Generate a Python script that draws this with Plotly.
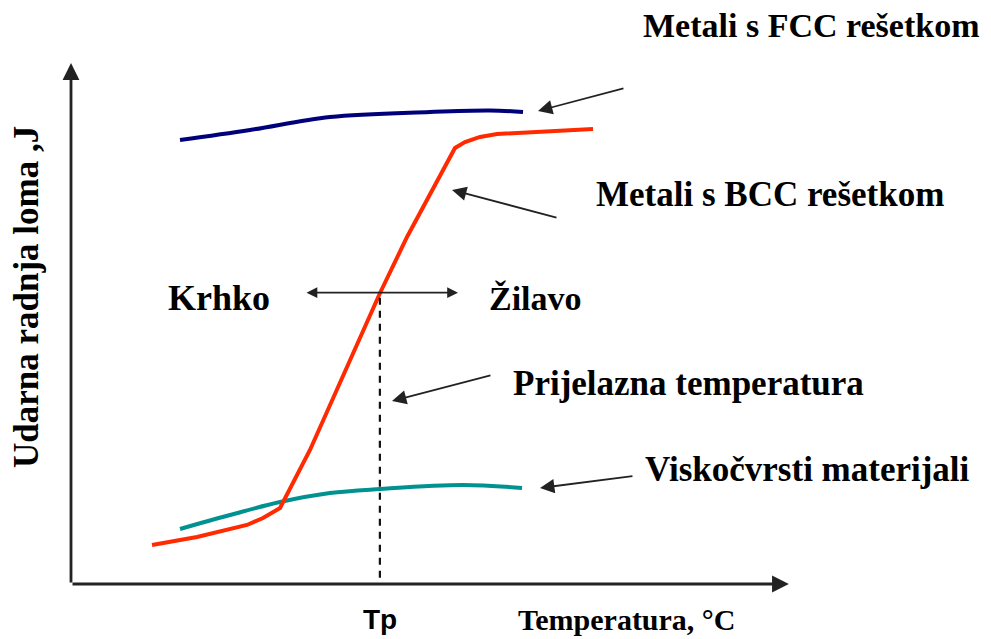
import plotly.graph_objects as go

# ---- data (x: temperature units 0-100, y: impact energy units 0-100) ----
fcc_x = [15.14, 24.86, 35.97, 49.86, 58.19, 62.78]
fcc_y = [86.43, 88.38, 90.91, 91.88, 92.17, 91.88]

bcc_x = [11.25, 17.50, 24.44, 26.67, 29.03, 33.19, 42.92, 46.67, 53.33, 54.72, 56.81, 59.17, 72.50]
bcc_y = [7.59, 9.15, 11.49, 12.85, 14.79, 26.09, 56.65, 67.55, 84.87, 86.04, 87.02, 87.60, 88.57]

visko_x = [15.14, 22.08, 29.03, 35.97, 42.92, 54.44, 62.64]
visko_y = [10.71, 13.43, 15.96, 17.71, 18.49, 19.27, 18.69]

TP = 42.9          # transition temperature
TP_Y = 56.7        # energy level at the transition

labels = {
    "fcc": "Metali s FCC rešetkom",
    "bcc": "Metali s BCC rešetkom",
    "tp": "Prijelazna temperatura",
    "visko": "Viskočvrsti materijali",
    "krhko": "Krhko",
    "zilavo": "Žilavo",
    "tick": "Tp",
    "xtitle": "Temperatura, °C",
    "ytitle": "Udarna radnja loma ,J",
}

SERIF = "Liberation Serif, Times New Roman, serif"
SANS = "Liberation Sans, Arial, sans-serif"

fig = go.Figure()
fig.add_trace(go.Scatter(x=fcc_x, y=fcc_y, mode="lines",
                         line=dict(color="#00007a", width=4, shape="spline"),
                         hoverinfo="skip", showlegend=False))
fig.add_trace(go.Scatter(x=visko_x, y=visko_y, mode="lines",
                         line=dict(color="#009290", width=4, shape="spline"),
                         hoverinfo="skip", showlegend=False))
fig.add_trace(go.Scatter(x=bcc_x, y=bcc_y, mode="lines",
                         line=dict(color="#ff2a00", width=4, shape="linear"),
                         hoverinfo="skip", showlegend=False))

# dashed transition line
fig.add_shape(type="line", x0=TP, x1=TP, y0=1.2, y1=TP_Y, xref="x", yref="y",
              line=dict(color="#111", width=2.2, dash="7px,6px"))

ann = []
# axes arrows
ann.append(dict(x=0, y=101.4, ax=0, ay=0, xref="x", yref="y", axref="x", ayref="y",
                showarrow=True, arrowhead=2, arrowsize=1.2, arrowwidth=2.8,
                arrowcolor="#222", text="", standoff=0))
ann.append(dict(x=99.7, y=0, ax=0, ay=0, xref="x", yref="y", axref="x", ayref="y",
                showarrow=True, arrowhead=2, arrowsize=1.2, arrowwidth=2.8,
                arrowcolor="#222", text="", standoff=0))

def pointer(tip, tail):
    return dict(x=tip[0], y=tip[1], ax=tail[0], ay=tail[1], xref="x", yref="y",
                axref="x", ayref="y", showarrow=True, arrowhead=2, arrowsize=1.6,
                arrowwidth=1.8, arrowcolor="#222", text="", standoff=0)

ann.append(pointer((64.86, 92.08), (76.94, 96.55)))
ann.append(pointer((52.92, 76.70), (67.64, 71.25)))
ann.append(pointer((44.58, 35.62), (58.47, 40.69)))
ann.append(pointer((65.14, 18.69), (78.19, 21.02)))

# double arrow Krhko <-> Zilavo
ann.append(dict(x=53.75, y=TP_Y, ax=32.5, ay=TP_Y, xref="x", yref="y",
                axref="x", ayref="y", showarrow=True, arrowhead=2, startarrowhead=2,
                arrowside="end+start", arrowsize=1.2, startarrowsize=1.2,
                arrowwidth=1.8, arrowcolor="#222", text="", standoff=0, startstandoff=0))

def label(text, xp, yp, size, family=SERIF, angle=0, xref="paper"):
    return dict(x=xp, y=yp, xref=xref, yref="paper", text="<b>" + text + "</b>",
                showarrow=False, xanchor="center", yanchor="middle", textangle=angle,
                font=dict(family=family, size=size, color="#000"))

ann.append(label(labels["fcc"], 1.028, 1.0649, 34))
ann.append(label(labels["bcc"], 0.9708, 0.7424, 35))
ann.append(label(labels["tp"], 0.8583, 0.3817, 35))
ann.append(label(labels["visko"], 1.0236, 0.2176, 35))
ann.append(label(labels["krhko"], 0.2056, 0.5458, 36))
ann.append(label(labels["zilavo"], 0.6458, 0.5458, 34))
ann.append(label(labels["tick"], TP, -0.0687, 28, family=SANS, xref="x"))
ann.append(label(labels["xtitle"], 0.7722, -0.0687, 30))
ann.append(label(labels["ytitle"], -0.0625, 0.5477, 35, angle=-90))

# the page adds an 8px body margin, so the plot area is shifted up/left by 8px
fig.update_layout(
    width=991, height=639,
    margin=dict(l=63, r=208, t=52, b=63),
    paper_bgcolor="white", plot_bgcolor="white",
    xaxis=dict(range=[0, 100], visible=False, fixedrange=True),
    yaxis=dict(range=[0, 102], visible=False, fixedrange=True),
    annotations=ann,
    showlegend=False,
)

fig.write_html("out.html")
